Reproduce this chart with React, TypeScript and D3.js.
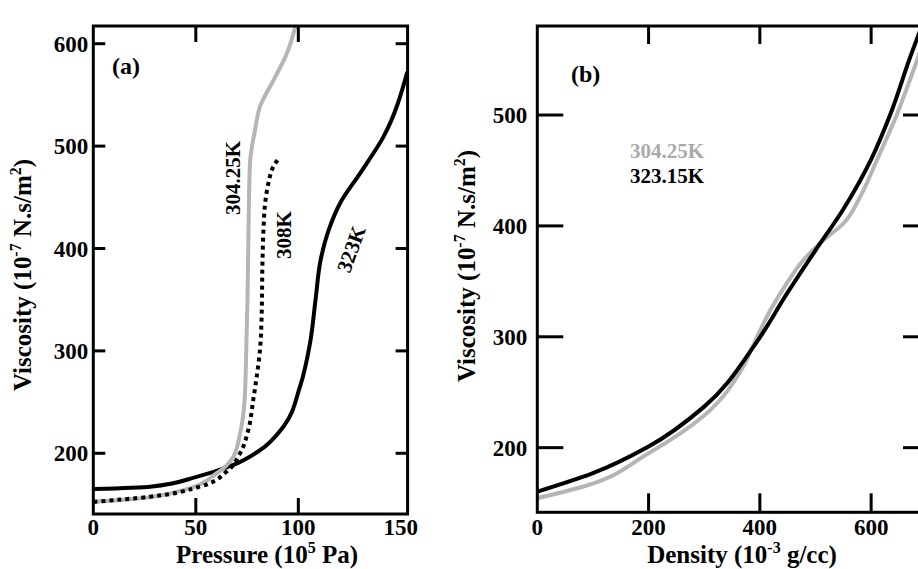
import React from 'react';
import * as d3 from 'd3';

// Panel (a): viscosity vs pressure
const pressureTicks = [0, 50, 100, 150];
const viscTicksA = [200, 300, 400, 500, 600];
const p304 = [0, 19.5, 43.8, 60.2, 68.3, 71.6, 73.8, 74.6, 75.2, 75.7, 76.4, 78.9, 81.3, 87.8, 94.3, 99];
const v304a = [152.7, 155.4, 164, 180.5, 196.7, 219.5, 252, 300, 350, 418, 483, 515.7, 538.5, 564, 590, 620];
const p308 = [0, 27.7, 52, 65, 71.6, 75.6, 78, 79.7, 81.3, 82.1, 82.5, 83, 83.8, 85.4, 87.8, 91];
const v308 = [152.5, 157.6, 167.4, 182, 200, 222.7, 252, 274.8, 300.9, 333.4, 385.5, 418, 444, 463.7, 479.9, 489.7];
const p323 = [0, 27.7, 50.4, 68.3, 81.3, 92.7, 100.8, 105.7, 108.4, 111, 114.8, 120.3, 130.1, 141.5, 153.2];
const v323 = [165, 167.4, 177, 188.6, 203, 226, 265, 307.4, 350, 390, 418, 444, 473.4, 509, 572.7];

// Panel (b): viscosity vs density
const densityTicks = [0, 200, 400, 600];
const viscTicksB = [200, 300, 400, 500];
const d304 = [0, 80, 200, 300, 370, 395, 420, 448, 478, 514, 550, 580, 610, 646, 670, 690, 710];
const v304b = [154.4, 164.5, 195, 229, 273, 300, 325, 348, 369, 387, 402, 426, 459, 500, 532, 560, 588];
const d323 = [0, 100, 200, 300, 390, 450, 500, 550, 600, 634, 670, 700];
const v323b = [160.3, 177, 201, 237, 292, 340, 378, 415, 460, 500, 552, 592];

const FONT = '"Liberation Serif", "Times New Roman", Times, serif';
const GRAY = '#b5b5b5';

const zip = (xs: number[], ys: number[]) => xs.map((x, i) => [x, ys[i]] as [number, number]);

export default function App() {
  const W = 918, H = 569;
  // panel (a)
  const xA = d3.scaleLinear().domain([0, 153.3]).range([93.3, 407.6]);
  const yA = d3.scaleLinear().domain([140.7, 617.3]).range([514, 26]);
  // panel (b)
  const xB = d3.scaleLinear().domain([0, 704]).range([537.3, 929]);
  const yB = d3.scaleLinear().domain([141.7, 580.3]).range([512.3, 26]);

  const lineA = d3.line<[number, number]>().x(d => xA(d[0])).y(d => yA(d[1])).curve(d3.curveMonotoneY);
  const lineB = d3.line<[number, number]>().x(d => xB(d[0])).y(d => yB(d[1])).curve(d3.curveMonotoneY);

  const [ax0, ax1] = xA.range();
  const [ay0, ay1] = yA.range();
  const [bx0, bx1] = xB.range();
  const [by0, by1] = yB.range();

  const tickFont = 23;
  const titleFont = 25;

  return (
    <svg width={W} height={H} style={{ position: 'absolute', left: 0, top: 0, background: '#fff' }}
      fontFamily={FONT} fontWeight="bold">
      <defs>
        <clipPath id="clipA"><rect x={ax0} y={ay1} width={ax1 - ax0} height={ay0 - ay1} /></clipPath>
        <clipPath id="clipB"><rect x={bx0} y={by1} width={bx1 - bx0} height={by0 - by1} /></clipPath>
      </defs>

      {/* ---------- Panel (a) ---------- */}
      <g clipPath="url(#clipA)" fill="none" strokeLinejoin="round">
        <path d={lineA(zip(p323, v323)) || ''} stroke="#000" strokeWidth={4} />
        <path d={lineA(zip(p304, v304a)) || ''} stroke={GRAY} strokeWidth={4} />
        <path d={lineA(zip(p308, v308)) || ''} stroke="#000" strokeWidth={4} strokeDasharray="4 4" />
      </g>
      <rect x={ax0} y={ay1} width={ax1 - ax0} height={ay0 - ay1} fill="none" stroke="#000" strokeWidth={3} />
      {viscTicksA.map(v => (
        <g key={'ya' + v}>
          <line x1={ax0} x2={ax0 + 12} y1={yA(v)} y2={yA(v)} stroke="#000" strokeWidth={3} />
          <line x1={ax1 - 12} x2={ax1} y1={yA(v)} y2={yA(v)} stroke="#000" strokeWidth={3} />
          <text x={ax0 - 5} y={yA(v)} dy="0.35em" textAnchor="end" fontSize={tickFont}>{v}</text>
        </g>
      ))}
      {pressureTicks.map(p => (
        <g key={'xa' + p}>
          {p > 0 && p < 150 && (
            <>
              <line x1={xA(p)} x2={xA(p)} y1={ay0} y2={ay0 - 16} stroke="#000" strokeWidth={3} />
              <line x1={xA(p)} x2={xA(p)} y1={ay1} y2={ay1 + 16} stroke="#000" strokeWidth={3} />
            </>
          )}
          <text x={xA(p)} y={535} textAnchor="middle" fontSize={tickFont}>{p}</text>
        </g>
      ))}
      <text x={112} y={74} fontSize={24}>(a)</text>
      <text transform="translate(233,178) rotate(-90)" textAnchor="middle" dy="0.35em" fontSize={21}>304.25K</text>
      <text transform="translate(284,235) rotate(-90)" textAnchor="middle" dy="0.35em" fontSize={21}>308K</text>
      <text transform="translate(351,249) rotate(-70)" textAnchor="middle" dy="0.35em" fontSize={21}>323K</text>
      <text x={267} y={563} textAnchor="middle" fontSize={titleFont}>
        Pressure (10<tspan dy={-10} fontSize={16}>5</tspan><tspan dy={10}> Pa)</tspan>
      </text>
      <text transform="translate(31,275) rotate(-90)" textAnchor="middle" fontSize={titleFont}>
        Viscosity (10<tspan dy={-10} fontSize={16}>-7</tspan><tspan dy={10}> N.s/m</tspan><tspan dy={-10} fontSize={16}>2</tspan><tspan dy={10}>)</tspan>
      </text>

      {/* ---------- Panel (b) ---------- */}
      <g clipPath="url(#clipB)" fill="none" strokeLinejoin="round">
        <path d={lineB(zip(d304, v304b)) || ''} stroke={GRAY} strokeWidth={4} />
        <path d={lineB(zip(d323, v323b)) || ''} stroke="#000" strokeWidth={4} />
      </g>
      <rect x={bx0} y={by1} width={bx1 - bx0} height={by0 - by1} fill="none" stroke="#000" strokeWidth={3} />
      {viscTicksB.map(v => (
        <g key={'yb' + v}>
          <line x1={bx0} x2={bx0 + 26} y1={yB(v)} y2={yB(v)} stroke="#000" strokeWidth={3} />
          <line x1={bx1 - 26} x2={bx1} y1={yB(v)} y2={yB(v)} stroke="#000" strokeWidth={3} />
          <text x={bx0 - 10} y={yB(v)} dy="0.35em" textAnchor="end" fontSize={tickFont}>{v}</text>
        </g>
      ))}
      {densityTicks.map(d => (
        <g key={'xb' + d}>
          {d > 0 && (
            <>
              <line x1={xB(d)} x2={xB(d)} y1={by0} y2={by0 - 19} stroke="#000" strokeWidth={3} />
              <line x1={xB(d)} x2={xB(d)} y1={by1} y2={by1 + 18} stroke="#000" strokeWidth={3} />
            </>
          )}
          <text x={xB(d)} y={535} textAnchor="middle" fontSize={tickFont}>{d}</text>
        </g>
      ))}
      <text x={571} y={82} fontSize={24}>(b)</text>
      <text x={630} y={158} fontSize={21} fill="#aaa">304.25K</text>
      <text x={630} y={183} fontSize={21} fill="#000">323.15K</text>
      <text x={742} y={563} textAnchor="middle" fontSize={titleFont}>
        Density (10<tspan dy={-10} fontSize={16}>-3</tspan><tspan dy={10}> g/cc)</tspan>
      </text>
      <text transform="translate(475,266) rotate(-90)" textAnchor="middle" fontSize={titleFont}>
        Viscosity (10<tspan dy={-10} fontSize={16}>-7</tspan><tspan dy={10}> N.s/m</tspan><tspan dy={-10} fontSize={16}>2</tspan><tspan dy={10}>)</tspan>
      </text>
    </svg>
  );
}
